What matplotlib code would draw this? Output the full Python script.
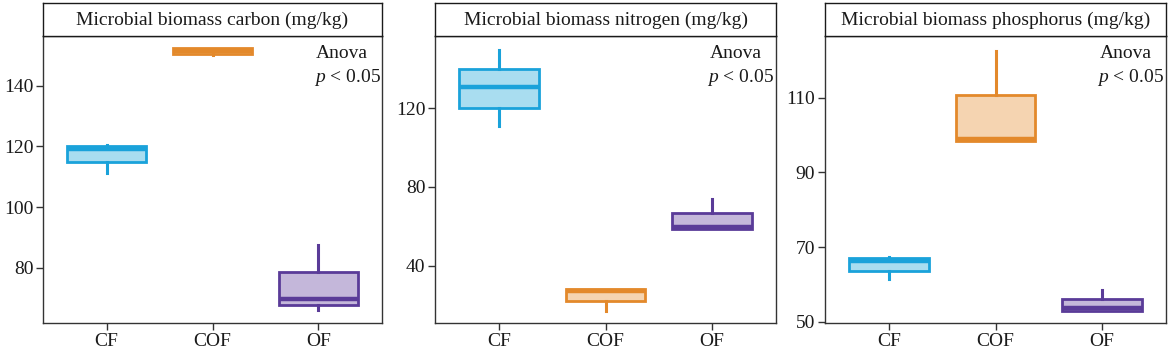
import matplotlib
matplotlib.use("Agg")
import matplotlib.pyplot as plt

plt.rcParams['font.family'] = ['Liberation Serif', 'DejaVu Serif']
plt.rcParams['mathtext.fontset'] = 'custom'
plt.rcParams['mathtext.rm'] = 'Liberation Serif'
plt.rcParams['mathtext.it'] = 'Liberation Serif:italic'

categories = ['CF', 'COF', 'OF']

titles = ['Microbial biomass carbon (mg/kg)',
          'Microbial biomass nitrogen (mg/kg)',
          'Microbial biomass phosphorus (mg/kg)']

# carbon
c_lo  = [111.2, 150.2, 66.0]
c_q1  = [114.8, 150.6, 67.6]
c_med = [119.0, 151.5, 69.6]
c_q3  = [120.0, 152.3, 78.5]
c_hi  = [120.5, 152.3, 87.5]

# nitrogen
n_lo  = [111.0, 17.2, 58.6]
n_q1  = [120.3, 22.0, 58.6]
n_med = [130.7, 27.0, 59.6]
n_q3  = [140.0, 28.1, 66.8]
n_hi  = [149.6, 28.1, 74.1]

# phosphorus
p_lo  = [61.3, 98.4, 52.9]
p_q1  = [63.5, 98.4, 52.9]
p_med = [66.3, 98.9, 53.7]
p_q3  = [67.0, 110.7, 56.1]
p_hi  = [67.3, 122.6, 58.4]

yticks = [[80, 100, 120, 140], [40, 80, 120], [50, 70, 90, 110]]
ylims = [(61.8, 156.4), (10.9, 156.7), (49.65, 126.5)]

edge_colors = ['#1aa2da', '#e3892b', '#5a3b98']
fill_colors = ['#a9ddf0', '#f5d4b1', '#c4b7da']

series = [(c_lo, c_q1, c_med, c_q3, c_hi),
          (n_lo, n_q1, n_med, n_q3, n_hi),
          (p_lo, p_q1, p_med, p_q3, p_hi)]

W, H = 1170, 353
fig = plt.figure(figsize=(W / 100, H / 100), dpi=100)

lefts = [43, 435, 825]
rights = [382, 776, 1166]
top_plot, bottom_plot, top_strip = 36, 323, 3

for i in range(3):
    l, r = lefts[i], rights[i]
    ax = fig.add_axes([l / W, 1 - bottom_plot / H, (r - l) / W, (bottom_plot - top_plot) / H])
    sax = fig.add_axes([l / W, 1 - top_plot / H, (r - l) / W, (top_plot - top_strip) / H])
    lo, q1, med, q3, hi = series[i]
    stats = []
    for j, cat in enumerate(categories):
        stats.append(dict(label=cat, whislo=lo[j], q1=q1[j], med=med[j],
                          q3=q3[j], whishi=hi[j], fliers=[]))
    bp = ax.bxp(stats, positions=[1, 2, 3], widths=0.75, patch_artist=True,
                showcaps=False, showfliers=False)
    for j in range(3):
        ec, fc = edge_colors[j], fill_colors[j]
        bp['boxes'][j].set_facecolor(fc)
        bp['boxes'][j].set_edgecolor(ec)
        bp['boxes'][j].set_linewidth(2.0)
        bp['medians'][j].set_color(ec)
        bp['medians'][j].set_linewidth(3.2)
        bp['medians'][j].set_solid_capstyle('butt')
        for w in bp['whiskers'][2 * j:2 * j + 2]:
            w.set_color(ec)
            w.set_linewidth(2.2)
    ax.set_xlim(0.4, 3.6)
    ax.set_ylim(*ylims[i])
    ax.set_yticks(yticks[i])
    ax.set_xticks([1, 2, 3])
    ax.set_xticklabels(categories)
    ax.tick_params(axis='both', labelsize=14, length=5, width=1, color='#333333',
                   labelcolor='#1a1a1a', pad=2)
    for s in ax.spines.values():
        s.set_linewidth(1.0)
        s.set_color('#333333')
    ax.text(0.882, 0.94, 'Anova', transform=ax.transAxes, ha='center', va='center',
            fontsize=14, color='#1a1a1a')
    ax.text(0.897, 0.857, r'$p$ < 0.05', transform=ax.transAxes, ha='center',
            va='center', fontsize=14, color='#1a1a1a')

    sax.set_xticks([])
    sax.set_yticks([])
    for s in sax.spines.values():
        s.set_linewidth(1.0)
        s.set_color('#1a1a1a')
    sax.text(0.5, 0.47, titles[i], transform=sax.transAxes, ha='center', va='center',
             fontsize=14, color='#1a1a1a')

fig.savefig('out.png', dpi=100)
